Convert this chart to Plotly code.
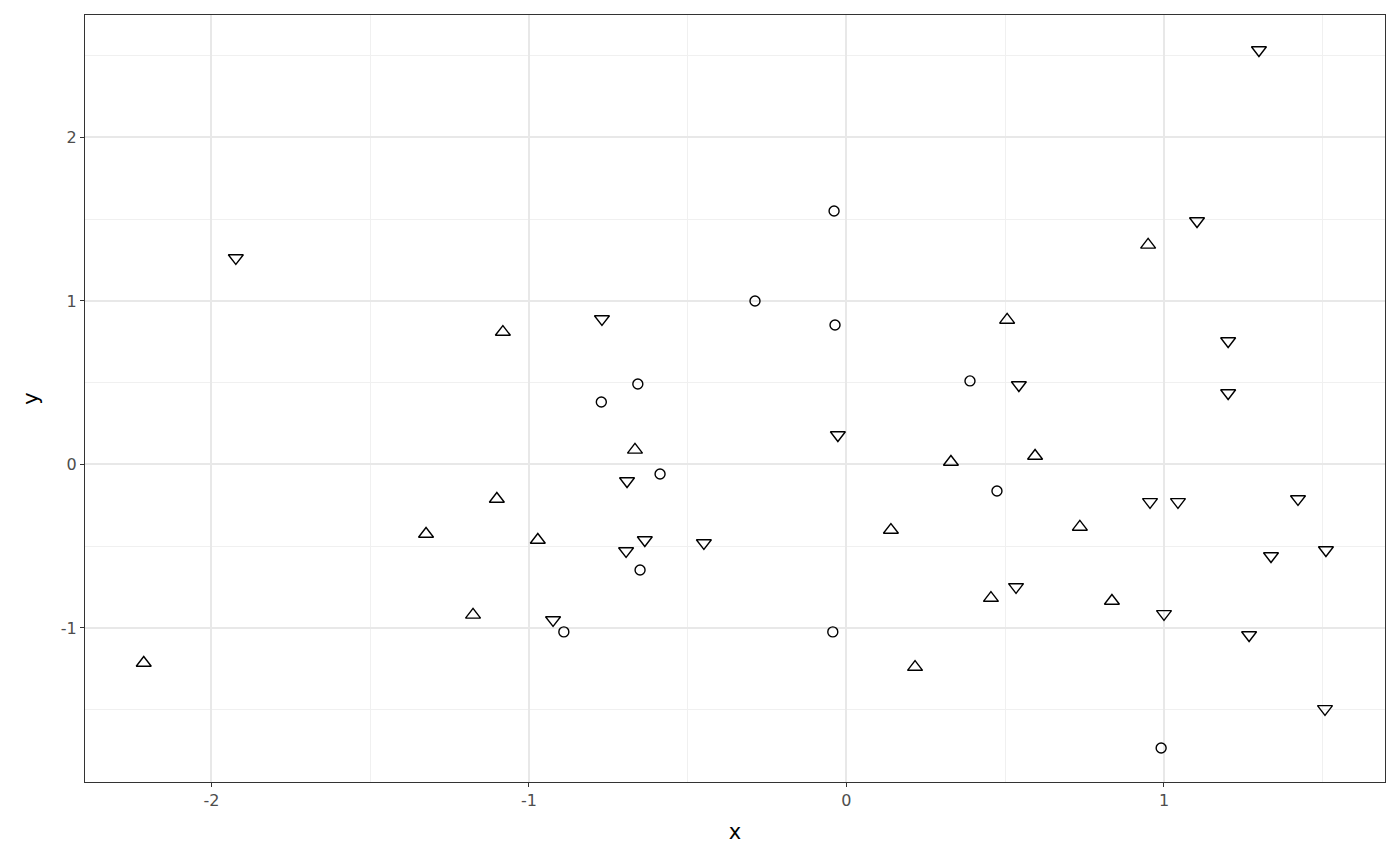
import plotly.graph_objects as go

# point groups
up_x = [-2.213, -1.082, -1.101, -1.324, -0.972, -1.176, -0.666, 0.140, 0.329, 0.506,
        0.594, 0.216, 0.455, 0.735, 0.836, 0.950]
up_y = [-1.214, 0.810, -0.211, -0.425, -0.462, -0.920, 0.089, -0.401, 0.015, 0.884,
        0.052, -1.239, -0.817, -0.382, -0.835, 1.343]

circle_x = [-0.772, -0.657, -0.587, -0.650, -0.890, -0.288, -0.039, -0.036, -0.043,
            0.389, 0.474, 0.991]
circle_y = [0.382, 0.492, -0.058, -0.645, -1.024, 1.000, 1.550, 0.853, -1.024,
            0.511, -0.162, -1.734]

down_x = [-1.923, -0.770, -0.691, -0.694, -0.635, -0.924, -0.449, -0.027, 0.543, 0.534,
          1.000, 0.956, 1.044, 1.104, 1.202, 1.202, 1.299, 1.422, 1.337, 1.510, 1.268, 1.507]
down_y = [1.263, 0.890, -0.101, -0.529, -0.462, -0.951, -0.480, 0.180, 0.486, -0.749,
          -0.914, -0.229, -0.229, 1.489, 0.755, 0.437, 2.535, -0.211, -0.560, -0.523,
          -1.043, -1.495]

x_ticks = [-2, -1, 0, 1]
y_ticks = [-1, 0, 1, 2]

fig = go.Figure()

def add_points(xs, ys, symbol, size):
    fig.add_trace(go.Scatter(
        x=xs, y=ys, mode="markers", showlegend=False,
        marker=dict(symbol=symbol, size=size, color="black",
                    line=dict(color="black", width=1.4)),
    ))

add_points(circle_x, circle_y, "circle-open", 10)
add_points(up_x, up_y, "triangle-up-open", 13)
add_points(down_x, down_y, "triangle-down-open", 13)

axis_style = dict(
    showgrid=True, gridcolor="#e8e8e8", gridwidth=1.8,
    zeroline=False,
    showline=True, mirror=True, linecolor="#333333", linewidth=1,
    ticks="outside", ticklen=4, tickcolor="#333333", tickwidth=1.2,
    tickfont=dict(family="DejaVu Sans", size=16, color="#4d4d4d"),
    title_font=dict(family="DejaVu Sans", size=21, color="black"),
)

fig.update_xaxes(axis_style, range=[-2.398, 1.696], tickmode="array", tickvals=x_ticks,
                 ticktext=[str(v) for v in x_ticks], title_text="x", title_standoff=15,
                 minor=dict(tickmode="array", tickvals=[-1.5, -0.5, 0.5, 1.5],
                            showgrid=True, gridcolor="#f0f0f0", gridwidth=0.9, ticks=""))
fig.update_yaxes(axis_style, range=[-1.942, 2.749], tickmode="array", tickvals=y_ticks,
                 ticktext=[str(v) for v in y_ticks], title_text="y", title_standoff=16,
                 minor=dict(tickmode="array", tickvals=[-1.5, -0.5, 0.5, 1.5, 2.5],
                            showgrid=True, gridcolor="#f0f0f0", gridwidth=0.9, ticks=""))

fig.update_layout(
    width=1400, height=866,
    margin=dict(l=85, r=15, t=15, b=84),
    paper_bgcolor="white", plot_bgcolor="white",
)

# drop the page's default body margin so the figure sits at the window corner
fig.write_html("out.html", config={"displayModeBar": False},
               post_script="document.body.style.margin='0';")
